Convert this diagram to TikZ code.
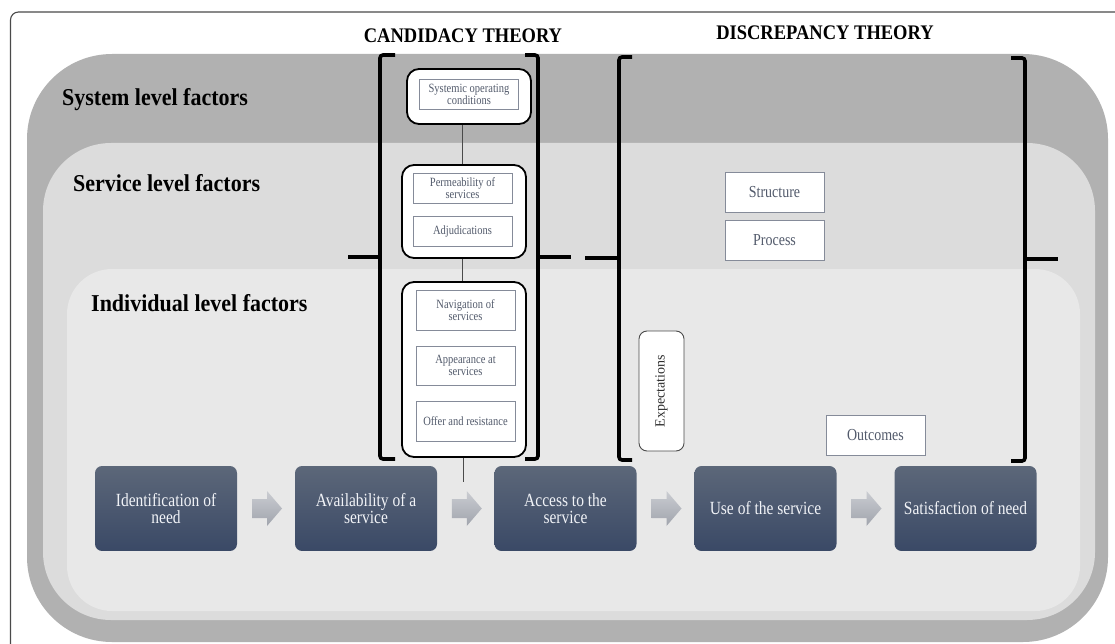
\documentclass[tikz,border=0pt]{standalone}
\usepackage{fontspec}
\setmainfont{Liberation Serif}
\usetikzlibrary{calc}

\definecolor{sysgray}{HTML}{B1B1B1}
\definecolor{servgray}{HTML}{DCDCDC}
\definecolor{indgray}{HTML}{E8E8E8}
\definecolor{framegray}{HTML}{4A4A4A}
\definecolor{navytop}{HTML}{5C6779}
\definecolor{navybot}{HTML}{3A4966}
\definecolor{itemedge}{HTML}{858B99}
\definecolor{itemtext}{HTML}{525A6B}
\definecolor{arrowtop}{HTML}{CACCD1}
\definecolor{arrowbot}{HTML}{A0A4AD}
\definecolor{stagetext}{HTML}{F1F3F7}

% text in this figure is set slightly tall: nodes carry a yscale and
% their minimum heights are divided by it so the boxes keep their size
\tikzset{
  levellabel/.style={anchor=west, inner sep=0pt, yscale=1.1, font=\fontsize{22}{26}\selectfont\bfseries},
  theorylabel/.style={inner sep=0pt, yscale=1.12, font=\fontsize{18.5}{22}\selectfont\bfseries},
  bracket/.style={line width=3.6pt, black, rounded corners=3pt},
  groupbox/.style={draw=black, fill=white, line width=1.8pt, rounded corners=12pt, inner sep=0pt},
  itembox/.style={draw=itemedge, fill=white, line width=0.8pt, inner sep=0pt, align=center, yscale=1.2,
    text=itemtext, font=\fontsize{10.5}{10}\selectfont, minimum width=99pt},
  plainbox/.style={draw=itemedge, fill=white, line width=0.9pt, inner sep=0pt, align=center, yscale=1.2,
    text=itemtext, font=\fontsize{14}{16}\selectfont, minimum width=99pt, minimum height=33.3pt},
  expbox/.style={draw=framegray, fill=white, line width=0.9pt, rounded corners=8pt, inner sep=0pt,
    text=black!82, font=\fontsize{14}{16}\selectfont, minimum width=120pt, minimum height=45pt},
  stagebox/.style={top color=navytop, bottom color=navybot, rounded corners=7pt, yscale=1.2,
    minimum width=142pt, minimum height=70.8pt, inner sep=0pt, align=center,
    text=stagetext, font=\fontsize{15.5}{14.5}\selectfont},
  link/.style={draw=framegray, line width=0.9pt},
  flowarrow/.style={top color=arrowtop, bottom color=arrowbot},
}

\begin{document}
\begin{tikzpicture}[x=1pt, y=-1pt]
\useasboundingbox (0,0) rectangle (1115,644);
\clip (0,0) rectangle (1115,644);

% page frame
\draw[framegray, line width=1.1pt, rounded corners=8pt] (10.5,12) rectangle (1140,670);

% nested levels
\fill[sysgray, rounded corners=85pt] (27,54) rectangle (1108,642);
\fill[servgray, rounded corners=68pt] (43,143) rectangle (1095,620);
\fill[indgray, rounded corners=45pt] (67,269) rectangle (1080,611);

% level labels
\node[levellabel] (syslab) at (62,100) {System level factors};
\node[levellabel] (servlab) at (73,183) {Service level factors};
\node[levellabel] (indlab) at (91,303) {Individual level factors};

% theory headings
\node[theorylabel] (cand) at (463,36) {CANDIDACY THEORY};
\node[theorylabel] (disc) at (825,33) {DISCREPANCY THEORY};

% candidacy brackets
\draw[bracket] (395,55) -- (380,55) -- (380,459) -- (395,459);
\draw[bracket] (348,257) -- (380,257);
\draw[bracket] (525,55) -- (538,55) -- (538,459) -- (525,459);
\draw[bracket] (538,257) -- (571,257);

% discrepancy brackets
\draw[bracket] (632,57) -- (619,57) -- (619,460) -- (632,460);
\draw[bracket] (585,258) -- (619,258);
\draw[bracket] (1011,58) -- (1025,58) -- (1025,461) -- (1011,461);
\draw[bracket] (1025,259) -- (1058,259);

% candidacy groups
\node[groupbox, minimum width=124pt, minimum height=55pt] (sysbox) at (469,96.5) {};
\node[groupbox, minimum width=124pt, minimum height=93pt] (servbox) at (464,211.5) {};
\node[groupbox, minimum width=124pt, minimum height=175pt] (indbox) at (464,369.5) {};

\node[itembox, minimum height=25pt] (soc) at (469,94) {Systemic operating\\conditions};
\node[itembox, minimum height=25pt] (perm) at (462.5,188) {Permeability of\\services};
\node[itembox, minimum height=25pt] (adj) at (462.5,231) {Adjudications};
\node[itembox, minimum height=33.3pt] (nav) at (465.5,310) {Navigation of\\services};
\node[itembox, minimum height=32.5pt] (app) at (465.5,365.5) {Appearance at\\services};
\node[itembox, minimum height=33.3pt] (offer) at (465.5,421) {Offer and resistance};

\coordinate (tail) at (463,482);
\draw[link] (sysbox.south -| perm) -- (perm |- servbox.north);
\draw[link] (servbox.south -| perm) -- (perm |- indbox.north);
\draw[link] (indbox.south -| tail) -- (tail);

% discrepancy elements
\node[plainbox] (struct) at (774.5,192) {Structure};
\node[plainbox] (proc) at (774.5,240) {Process};
\node[plainbox] (outc) at (875.5,435) {Outcomes};
\node[expbox, rotate=90] (expect) at (661.5,391) {Expectations};

% pathway stages
\node[stagebox] (need) at (166,508.5) {Identification of\\need};
\node[stagebox] (avail) at (366,508.5) {Availability of a\\service};
\node[stagebox] (access) at (565.5,508.5) {Access to the\\service};
\node[stagebox] (use) at (765.5,508.5) {Use of the service};
\node[stagebox] (satisf) at (965.5,508.5) {Satisfaction of need};

\foreach \a/\b in {need/avail, avail/access, access/use, use/satisf}{
  \coordinate (m) at ($(\a.east)!0.5!(\b.west)+(1,0)$);
  \shade[flowarrow] ($(m)+(-15,-9.5)$) -- ++(15,0) -- ++(0,-8) -- ++(15,17.5)
    -- ++(-15,17.5) -- ++(0,-8) -- ++(-15,0) -- cycle;
}
\end{tikzpicture}
\end{document}
